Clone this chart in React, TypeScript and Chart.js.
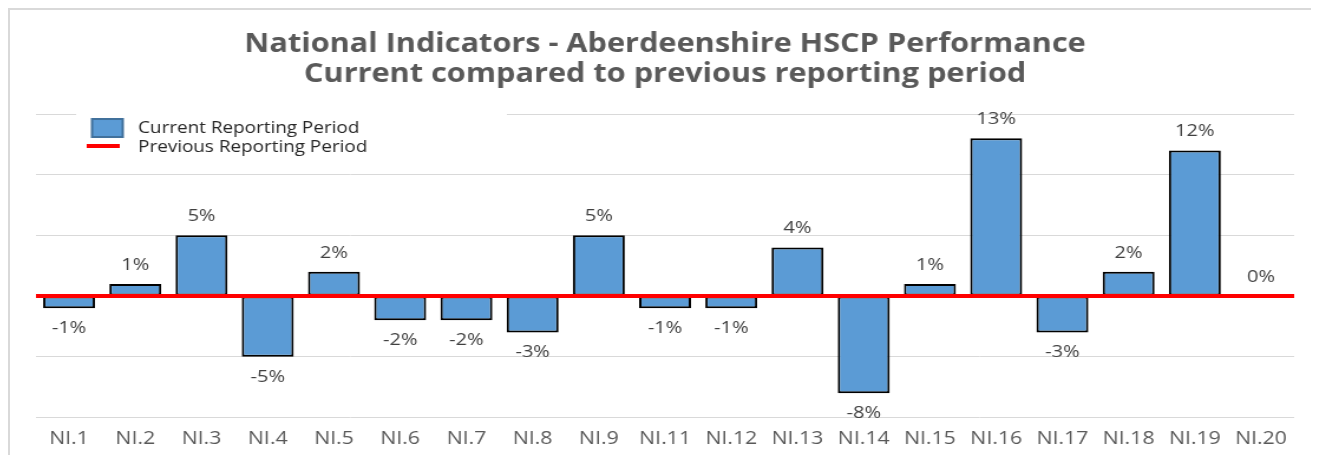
import React, { useEffect, useRef } from "react";
import { Chart, registerables } from "chart.js";

Chart.register(...registerables);

const TITLE_LINES = [
  "National Indicators - Aberdeenshire HSCP Performance",
  "Current compared to previous reporting period",
];
const CATEGORIES = [
  "NI.1", "NI.2", "NI.3", "NI.4", "NI.5", "NI.6", "NI.7", "NI.8", "NI.9", "NI.11",
  "NI.12", "NI.13", "NI.14", "NI.15", "NI.16", "NI.17", "NI.18", "NI.19", "NI.20",
];
const CURRENT = [-1, 1, 5, -5, 2, -2, -2, -3, 5, -1, -1, 4, -8, 1, 13, -3, 2, 12, 0];
const PREVIOUS = [0, 0, 0, 0, 0, 0, 0, 0, 0, 0, 0, 0, 0, 0, 0, 0, 0, 0, 0];
const SERIES_NAMES = ["Current Reporting Period", "Previous Reporting Period"];

const FONT = "'Open Sans', 'Noto Sans', sans-serif";
const STRETCH = 1.1803;
const INNER_W = 1109;
const INNER_H = 445;

const valueLabels = {
  id: "valueLabels",
  afterDatasetsDraw(chart: any) {
    const ctx = chart.ctx;
    const meta = chart.getDatasetMeta(1);
    const data = chart.data.datasets[1].data as number[];
    ctx.save();
    ctx.font = `17px ${FONT}`;
    ctx.fillStyle = "#404040";
    ctx.textAlign = "center";
    ctx.textBaseline = "middle";
    meta.data.forEach((bar: any, i: number) => {
      const v = data[i];
      const y = v >= 0 ? bar.y - 19 : bar.y + 20;
      ctx.fillText(`${Math.round(v)}%`, bar.x, y);
    });
    ctx.restore();
  },
};

const overlayLegend = {
  id: "overlayLegend",
  afterDraw(chart: any) {
    const ctx = chart.ctx;
    const area = chart.chartArea;
    const x0 = area.left + 34;
    const y0 = area.top - 8;
    ctx.save();
    ctx.fillStyle = "#ffffff";
    ctx.fillRect(x0, y0, 365, 50);
    const barDs = chart.data.datasets[1];
    const lineDs = chart.data.datasets[0];
    ctx.fillStyle = barDs.backgroundColor;
    ctx.fillRect(x0 + 13.5, y0 + 13, 26, 18);
    ctx.strokeStyle = "#41719c";
    ctx.lineWidth = 2;
    ctx.strokeRect(x0 + 13.5, y0 + 13, 26, 18);
    ctx.strokeStyle = lineDs.borderColor;
    ctx.lineWidth = 4;
    ctx.beginPath();
    ctx.moveTo(x0 + 9, y0 + 40);
    ctx.lineTo(x0 + 37, y0 + 40);
    ctx.stroke();
    ctx.font = `16px ${FONT}`;
    ctx.fillStyle = "#262626";
    ctx.textAlign = "left";
    ctx.textBaseline = "middle";
    ctx.fillText(barDs.label, x0 + 52.5, y0 + 22);
    ctx.fillText(lineDs.label, x0 + 52.5, y0 + 41);
    ctx.restore();
  },
};

export default function App() {
  const canvasRef = useRef<HTMLCanvasElement | null>(null);

  useEffect(() => {
    if (!canvasRef.current) return;
    const chart = new Chart(canvasRef.current, {
      type: "bar",
      data: {
        labels: CATEGORIES,
        datasets: [
          {
            type: "line",
            label: SERIES_NAMES[1],
            data: PREVIOUS,
            xAxisID: "x2",
            borderColor: "#ff0000",
            backgroundColor: "#ff0000",
            borderWidth: 4,
            pointRadius: 0,
            order: 0,
          } as any,
          {
            type: "bar",
            label: SERIES_NAMES[0],
            data: CURRENT,
            backgroundColor: "#5b9bd5",
            borderColor: "#000000",
            borderWidth: 2,
            borderSkipped: false,
            grouped: false,
            barPercentage: 0.8,
            categoryPercentage: 0.98,
            order: 1,
          } as any,
        ],
      },
      options: {
        animation: false,
        responsive: true,
        maintainAspectRatio: false,
        layout: { padding: { left: 22, right: 21, top: 0, bottom: -6 } },
        plugins: {
          legend: { display: false },
          tooltip: { enabled: false },
          title: {
            display: true,
            text: TITLE_LINES,
            color: "#595959",
            font: { family: FONT, size: 26, weight: "bold", lineHeight: 1.154 },
            padding: { top: 20, bottom: 24 },
          },
        },
        scales: {
          x: {
            offset: true,
            grid: { display: false, drawTicks: false },
            border: { display: false },
            ticks: {
              color: "#595959",
              font: { family: FONT, size: 18 },
              padding: 11,
              maxRotation: 0,
              autoSkip: false,
            },
          },
          x2: {
            type: "category",
            offset: false,
            display: false,
          },
          y: {
            min: -10,
            max: 15,
            ticks: { display: false, stepSize: 5 },
            grid: { color: "#d9d9d9", lineWidth: 1, drawTicks: false },
            border: { display: false },
          },
        },
      },
      plugins: [valueLabels, overlayLegend],
    });
    return () => chart.destroy();
  }, []);

  return (
    <div
      style={{
        position: "relative",
        width: 1311,
        height: 447,
        boxSizing: "border-box",
        borderTop: "2px solid #d9d9d9",
        borderLeft: "2px solid #d9d9d9",
        background: "#ffffff",
        overflow: "hidden",
      }}
    >
      <div
        style={{
          position: "relative",
          width: INNER_W,
          height: INNER_H,
          transform: `scaleX(${STRETCH})`,
          transformOrigin: "0 0",
        }}
      >
        <canvas ref={canvasRef} />
      </div>
    </div>
  );
}
